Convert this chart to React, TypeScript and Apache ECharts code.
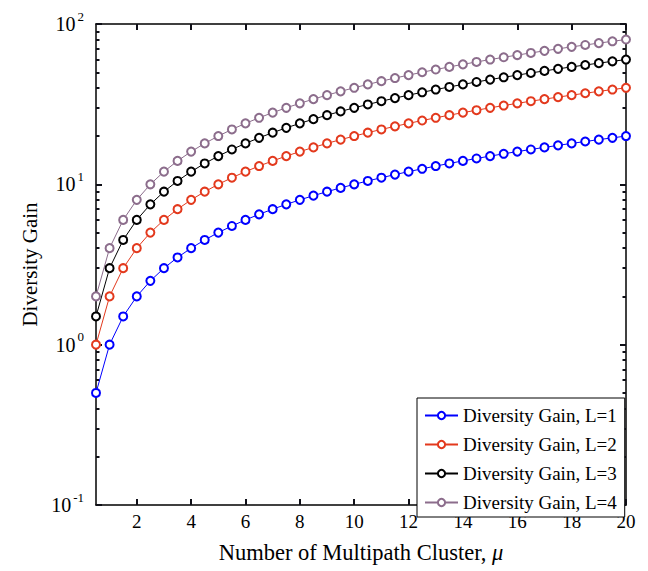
import React, { useEffect, useRef } from 'react';
import * as echarts from 'echarts';

const mu = [0.5, 1, 1.5, 2, 2.5, 3, 3.5, 4, 4.5, 5, 5.5, 6, 6.5, 7, 7.5, 8, 8.5, 9, 9.5, 10, 10.5, 11, 11.5, 12, 12.5, 13, 13.5, 14, 14.5, 15, 15.5, 16, 16.5, 17, 17.5, 18, 18.5, 19, 19.5, 20];
const gainL1 = [0.5, 1, 1.5, 2, 2.5, 3, 3.5, 4, 4.5, 5, 5.5, 6, 6.5, 7, 7.5, 8, 8.5, 9, 9.5, 10, 10.5, 11, 11.5, 12, 12.5, 13, 13.5, 14, 14.5, 15, 15.5, 16, 16.5, 17, 17.5, 18, 18.5, 19, 19.5, 20];
const gainL2 = [1, 2, 3, 4, 5, 6, 7, 8, 9, 10, 11, 12, 13, 14, 15, 16, 17, 18, 19, 20, 21, 22, 23, 24, 25, 26, 27, 28, 29, 30, 31, 32, 33, 34, 35, 36, 37, 38, 39, 40];
const gainL3 = [1.5, 3, 4.5, 6, 7.5, 9, 10.5, 12, 13.5, 15, 16.5, 18, 19.5, 21, 22.5, 24, 25.5, 27, 28.5, 30, 31.5, 33, 34.5, 36, 37.5, 39, 40.5, 42, 43.5, 45, 46.5, 48, 49.5, 51, 52.5, 54, 55.5, 57, 58.5, 60];
const gainL4 = [2, 4, 6, 8, 10, 12, 14, 16, 18, 20, 22, 24, 26, 28, 30, 32, 34, 36, 38, 40, 42, 44, 46, 48, 50, 52, 54, 56, 58, 60, 62, 64, 66, 68, 70, 72, 74, 76, 78, 80];
const seriesNames = ['Diversity Gain, L=1', 'Diversity Gain, L=2', 'Diversity Gain, L=3', 'Diversity Gain, L=4'];
const xTicks = [2, 4, 6, 8, 10, 12, 14, 16, 18, 20];
const decades = [-1, 0, 1, 2];
const minorMantissas = [2, 3, 4, 5, 6, 7, 8, 9];

const FONT = "'Liberation Serif', 'Times New Roman', serif";
const COLORS = ['#0000ff', '#e3391d', '#000000', '#8c6d8c'];
const TICK_COLOR = '#101018';

export default function App() {
  const ref = useRef<HTMLDivElement>(null);
  useEffect(() => {
    document.body.style.margin = '0';
    if (!ref.current) return;
    const chart = echarts.init(ref.current, undefined, { renderer: 'svg' });
    const gains = [gainL1, gainL2, gainL3, gainL4];
    const minorLog: number[] = [];
    decades.slice(0, 3).forEach((d) => minorMantissas.forEach((m) => minorLog.push(d + Math.log10(m))));
    const majorLog = decades.slice();

    const mkLine = () => ({ show: true, onZero: false, lineStyle: { color: '#000', width: 1.5 } });
    const tickAxisX = (position: string) => ({
      type: 'value', min: 0.5, max: 20, position,
      axisLine: { show: false, onZero: false }, splitLine: { show: false },
      axisTick: { show: true, inside: true, length: 6, customValues: xTicks.slice(), lineStyle: { color: TICK_COLOR, width: 2 } },
      axisLabel: { show: false },
    });
    const tickAxisY = (position: string, values: number[], length: number) => ({
      type: 'value', min: -1, max: 2, position,
      axisLine: { show: false, onZero: false }, splitLine: { show: false },
      axisTick: { show: true, inside: true, length, customValues: values.slice(), lineStyle: { color: TICK_COLOR, width: 2 } },
      axisLabel: { show: false },
    });

    const option: any = {
      animation: false,
      backgroundColor: '#ffffff',
      grid: { left: 96, right: 22, top: 24, bottom: 66 },
      xAxis: [
        {
          type: 'value', min: 0.5, max: 20, position: 'bottom',
          axisLine: mkLine(), splitLine: { show: false },
          axisTick: { show: false },
          axisLabel: { customValues: xTicks.slice(), fontSize: 19, fontFamily: FONT, color: '#000', margin: 7 },
          name: 'Number of Multipath Cluster, {i|μ}',
          nameLocation: 'middle', nameGap: 36,
          nameTextStyle: {
            fontSize: 22.5, fontFamily: FONT, color: '#000',
            rich: { i: { fontSize: 22.5, fontFamily: FONT, fontStyle: 'italic', color: '#000' } },
          },
        },
        {
          type: 'value', min: 0.5, max: 20, position: 'top',
          axisLine: mkLine(), splitLine: { show: false },
          axisTick: { show: false }, axisLabel: { show: false },
        },
        tickAxisX('bottom'),
        tickAxisX('top'),
      ],
      yAxis: [
        {
          type: 'log', logBase: 10, min: 0.1, max: 100, position: 'left',
          axisLine: mkLine(), splitLine: { show: false },
          axisTick: { show: false },
          axisLabel: {
            margin: 12,
            formatter: (v: number) => `{b|10}{s|${Math.round(Math.log10(v))}}`,
            rich: {
              b: { fontSize: 20, fontFamily: FONT, color: '#000' },
              s: { fontSize: 13, fontFamily: FONT, color: '#000', padding: [0, 0, 16, 2] },
            },
          },
          name: 'Diversity Gain', nameLocation: 'middle', nameGap: 50, nameRotate: 90,
          nameTextStyle: { fontSize: 21, fontFamily: FONT, color: '#000' },
        },
        {
          type: 'log', logBase: 10, min: 0.1, max: 100, position: 'right',
          axisLine: mkLine(), splitLine: { show: false },
          axisTick: { show: false }, axisLabel: { show: false },
        },
        tickAxisY('left', minorLog, 3.5),
        tickAxisY('left', majorLog, 6),
        tickAxisY('right', minorLog, 3.5),
        tickAxisY('right', majorLog, 6),
      ],
      legend: {
        orient: 'vertical', left: 417, top: 398,
        padding: [8, 8, 5, 7], itemGap: 10, itemWidth: 33, itemHeight: 9,
        backgroundColor: '#fff', borderColor: '#000', borderWidth: 1, borderRadius: 0,
        textStyle: { fontSize: 19, fontFamily: FONT, color: '#000', lineHeight: 14 },
        itemStyle: { borderWidth: 1 },
        data: seriesNames,
      },
      series: gains.map((g, i) => ({
        type: 'line', name: seriesNames[i], xAxisIndex: 0, yAxisIndex: 0,
        data: mu.map((x, j) => [x, g[j]]),
        symbol: 'emptyCircle', symbolSize: 8, showAllSymbol: true,
        color: COLORS[i],
        lineStyle: { width: 1, color: COLORS[i] },
        itemStyle: { color: COLORS[i], borderColor: COLORS[i], borderWidth: 0.9 },
        clip: false,
      })),
    };
    chart.setOption(option);
    return () => chart.dispose();
  }, []);
  return <div ref={ref} style={{ width: 648, height: 571 }} />;
}
